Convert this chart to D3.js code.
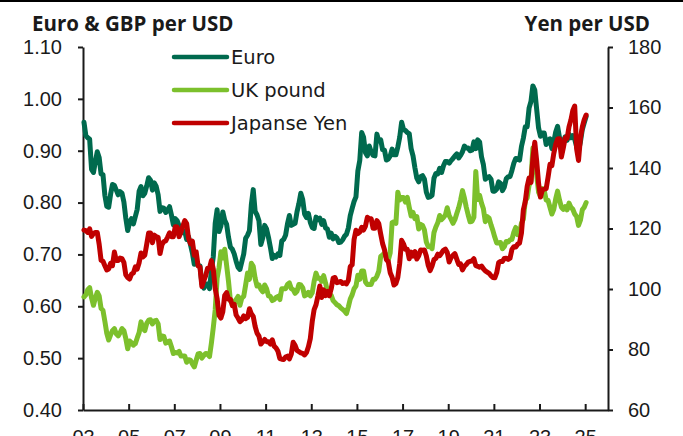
<!DOCTYPE html>
<html>
<head>
<meta charset="utf-8">
<script src="https://d3js.org/d3.v7.min.js"></script>
<style>
  body { margin: 0; background: #fff; }
  svg { display: block; font-family: "DejaVu Sans", sans-serif; }
  .tick text { font-size: 20px; fill: #1a1a1a; }
  .domain, .tick line { stroke: #1a1a1a; stroke-width: 2px; }
  .title { font-family: "Open Sans", sans-serif; font-weight: bold; font-size: 20.5px; fill: #1a1a1a; }
  .legend text { font-size: 19.5px; fill: #1a1a1a; }
</style>
</head>
<body>
<script>
// monthly readings, first value = Jan 2003, last = Jan 2025
var startYear = 2003;

var euro = [
  0.955, 0.929, 0.925, 0.922, 0.864, 0.858, 0.879, 0.898, 0.887, 0.855, 0.854, 0.814,
  0.793, 0.791, 0.816, 0.835, 0.833, 0.824, 0.815, 0.821, 0.818, 0.801, 0.770, 0.746,
  0.762, 0.769, 0.759, 0.773, 0.787, 0.822, 0.831, 0.813, 0.818, 0.832, 0.848, 0.843,
  0.824, 0.838, 0.831, 0.815, 0.783, 0.790, 0.789, 0.781, 0.786, 0.792, 0.776, 0.757,
  0.769, 0.765, 0.755, 0.743, 0.742, 0.745, 0.729, 0.734, 0.719, 0.703, 0.681, 0.686,
  0.679, 0.678, 0.644, 0.635, 0.643, 0.643, 0.634, 0.668, 0.696, 0.760, 0.786, 0.744,
  0.755, 0.782, 0.766, 0.758, 0.733, 0.714, 0.710, 0.701, 0.687, 0.675, 0.671, 0.686,
  0.701, 0.731, 0.737, 0.746, 0.796, 0.825, 0.783, 0.776, 0.765, 0.719, 0.732, 0.756,
  0.749, 0.733, 0.714, 0.692, 0.698, 0.695, 0.701, 0.698, 0.726, 0.729, 0.737, 0.759,
  0.775, 0.756, 0.758, 0.760, 0.782, 0.798, 0.818, 0.806, 0.778, 0.771, 0.779, 0.762,
  0.752, 0.750, 0.772, 0.767, 0.770, 0.758, 0.765, 0.751, 0.749, 0.733, 0.741, 0.730,
  0.735, 0.732, 0.723, 0.724, 0.728, 0.735, 0.739, 0.751, 0.775, 0.789, 0.802, 0.811,
  0.861, 0.881, 0.935, 0.926, 0.896, 0.890, 0.909, 0.898, 0.891, 0.890, 0.932, 0.919,
  0.921, 0.902, 0.901, 0.882, 0.884, 0.890, 0.903, 0.892, 0.892, 0.907, 0.926, 0.955,
  0.941, 0.939, 0.935, 0.933, 0.904, 0.890, 0.867, 0.847, 0.840, 0.850, 0.852, 0.845,
  0.820, 0.810, 0.811, 0.814, 0.847, 0.856, 0.855, 0.866, 0.858, 0.871, 0.879, 0.879,
  0.876, 0.881, 0.885, 0.890, 0.894, 0.886, 0.891, 0.898, 0.909, 0.905, 0.905, 0.900,
  0.901, 0.917, 0.904, 0.921, 0.917, 0.888, 0.873, 0.845, 0.848, 0.850, 0.845, 0.822,
  0.822, 0.826, 0.840, 0.837, 0.823, 0.830, 0.846, 0.850, 0.850, 0.862, 0.876, 0.885,
  0.884, 0.882, 0.908, 0.924, 0.946, 0.946, 0.982, 0.995, 1.025, 1.017, 0.980, 0.944,
  0.928, 0.934, 0.934, 0.912, 0.920, 0.923, 0.904, 0.917, 0.936, 0.947, 0.925, 0.917,
  0.917, 0.927, 0.920, 0.932, 0.925, 0.929, 0.922, 0.908, 0.900, 0.917, 0.941, 0.954,
  0.966
];

var pound = [
  0.618, 0.622, 0.632, 0.636, 0.616, 0.602, 0.616, 0.627, 0.620, 0.596, 0.592, 0.571,
  0.548, 0.535, 0.545, 0.553, 0.557, 0.547, 0.543, 0.549, 0.557, 0.553, 0.538, 0.518,
  0.533, 0.530, 0.525, 0.528, 0.539, 0.549, 0.570, 0.557, 0.553, 0.567, 0.573, 0.574,
  0.566, 0.572, 0.573, 0.566, 0.536, 0.543, 0.542, 0.529, 0.531, 0.533, 0.522, 0.509,
  0.511, 0.510, 0.513, 0.504, 0.504, 0.504, 0.492, 0.497, 0.496, 0.489, 0.483, 0.496,
  0.508, 0.509, 0.500, 0.505, 0.509, 0.508, 0.503, 0.529, 0.559, 0.593, 0.654, 0.674,
  0.705, 0.693, 0.710, 0.679, 0.648, 0.610, 0.610, 0.605, 0.613, 0.619, 0.602, 0.616,
  0.619, 0.641, 0.664, 0.652, 0.683, 0.677, 0.654, 0.639, 0.641, 0.633, 0.628, 0.641,
  0.634, 0.620, 0.619, 0.611, 0.613, 0.617, 0.619, 0.613, 0.634, 0.634, 0.634, 0.642,
  0.645, 0.634, 0.632, 0.625, 0.629, 0.642, 0.641, 0.636, 0.620, 0.622, 0.627, 0.620,
  0.626, 0.648, 0.664, 0.654, 0.654, 0.648, 0.659, 0.645, 0.630, 0.622, 0.621, 0.611,
  0.607, 0.603, 0.601, 0.597, 0.594, 0.591, 0.586, 0.599, 0.614, 0.622, 0.634, 0.639,
  0.660, 0.652, 0.668, 0.668, 0.647, 0.642, 0.642, 0.642, 0.652, 0.652, 0.658, 0.668,
  0.696, 0.699, 0.703, 0.699, 0.689, 0.703, 0.761, 0.763, 0.760, 0.820, 0.805, 0.810,
  0.810, 0.801, 0.810, 0.791, 0.774, 0.781, 0.769, 0.773, 0.749, 0.758, 0.756, 0.747,
  0.724, 0.715, 0.716, 0.711, 0.742, 0.753, 0.761, 0.775, 0.767, 0.771, 0.776, 0.790,
  0.775, 0.768, 0.760, 0.767, 0.779, 0.790, 0.805, 0.823, 0.809, 0.791, 0.776, 0.763,
  0.764, 0.772, 0.860, 0.806, 0.814, 0.799, 0.788, 0.763, 0.773, 0.770, 0.757, 0.746,
  0.733, 0.722, 0.722, 0.723, 0.711, 0.715, 0.725, 0.724, 0.728, 0.729, 0.743, 0.752,
  0.738, 0.740, 0.760, 0.768, 0.803, 0.809, 0.833, 0.842, 0.905, 0.886, 0.853, 0.820,
  0.812, 0.827, 0.823, 0.805, 0.804, 0.791, 0.778, 0.787, 0.807, 0.822, 0.805, 0.791,
  0.787, 0.792, 0.786, 0.799, 0.791, 0.787, 0.778, 0.773, 0.756, 0.766, 0.786, 0.791,
  0.800
];

var yen = [
  119.5, 119.3, 118.7, 119.9, 117.4, 118.3, 118.7, 118.7, 114.8, 109.5, 109.2, 107.7,
  106.3, 106.6, 108.5, 107.7, 112.2, 109.4, 109.4, 110.2, 110.0, 108.8, 104.7, 103.8,
  103.3, 104.9, 105.3, 107.3, 106.6, 108.7, 111.9, 110.6, 111.2, 114.8, 118.5, 118.5,
  115.3, 117.8, 117.3, 117.1, 111.7, 114.6, 115.7, 115.9, 117.2, 118.6, 117.3, 117.3,
  120.6, 120.5, 117.3, 118.8, 120.8, 122.6, 121.6, 116.7, 115.0, 115.8, 111.2, 112.3,
  107.6, 107.2, 100.8, 102.7, 104.4, 106.9, 106.9, 109.4, 106.6, 100.1, 96.9, 91.3,
  90.4, 92.5, 97.9, 98.8, 96.6, 96.6, 94.5, 94.9, 91.4, 90.4, 89.2, 89.8,
  91.1, 90.2, 90.6, 93.5, 91.8, 90.9, 87.6, 85.4, 84.4, 81.8, 82.5, 83.3,
  82.6, 82.6, 81.8, 83.2, 81.1, 80.5, 79.4, 77.0, 76.8, 76.7, 77.5, 77.8,
  76.9, 78.5, 82.4, 81.4, 79.7, 79.3, 78.9, 78.7, 78.2, 79.0, 80.9, 83.6,
  89.2, 93.2, 94.8, 97.7, 101.0, 97.2, 99.7, 97.8, 99.2, 97.8, 100.1, 103.6,
  103.8, 102.1, 102.3, 102.5, 101.8, 102.1, 101.7, 102.9, 107.4, 108.0, 116.4, 119.4,
  118.3, 118.8, 120.4, 119.5, 120.8, 123.7, 123.3, 123.2, 120.1, 120.1, 122.6, 121.6,
  118.2, 115.0, 113.0, 109.7, 109.0, 105.4, 103.9, 101.3, 101.8, 103.8, 108.5, 116.1,
  114.9, 113.1, 113.1, 110.0, 112.2, 110.9, 112.4, 109.9, 111.0, 112.9, 112.8, 112.9,
  110.9, 107.8, 106.1, 107.6, 109.7, 110.1, 111.5, 111.0, 111.9, 112.8, 113.2, 112.1,
  108.9, 110.4, 111.1, 111.7, 109.9, 108.1, 108.3, 106.3, 107.5, 108.1, 108.9, 109.1,
  109.3, 110.0, 107.7, 107.5, 107.2, 107.6, 106.7, 106.0, 105.6, 105.2, 104.4, 103.8,
  103.7, 105.4, 108.7, 109.1, 109.1, 110.1, 110.2, 109.8, 110.2, 113.1, 114.0, 113.9,
  114.8, 115.2, 118.5, 126.2, 128.8, 133.9, 136.7, 135.2, 143.1, 148.5, 142.4, 134.9,
  130.4, 132.8, 133.0, 133.2, 137.0, 141.2, 140.8, 144.8, 147.8, 149.6, 149.7, 143.6,
  146.6, 150.0, 149.8, 153.6, 155.9, 159.0, 160.5, 146.3, 142.5, 149.8, 153.6, 156.0,
  157.5
];

var xTicks = [2003, 2005, 2007, 2009, 2011, 2013, 2015, 2017, 2019, 2021, 2023, 2025];
var leftTicks = [0.4, 0.5, 0.6, 0.7, 0.8, 0.9, 1.0, 1.1];
var rightTicks = [60, 80, 100, 120, 140, 160, 180];

var seriesNames = ["Euro", "UK pound", "Japanse Yen"];
var seriesColors = ["#006a4e", "#7cc02c", "#c00000"];

var W = 683, H = 436;
var svg = d3.select("body").append("svg").attr("width", W).attr("height", H);

// rule across the top
svg.append("line").attr("x1", 0).attr("x2", W).attr("y1", 1).attr("y2", 1)
   .attr("stroke", "#000").attr("stroke-width", 2);

var x = d3.scaleLinear().domain([2003, 2026]).range([83, 608]);
var yL = d3.scaleLinear().domain([0.4, 1.1]).range([410, 47]);
var yR = d3.scaleLinear().domain([60, 180]).range([410, 47]);

function dateOf(i) { return startYear + (i + 0.5) / 12; }

// axes
svg.append("g").attr("transform", "translate(0,410)")
   .call(d3.axisBottom(x).tickValues(xTicks).tickSizeInner(-6).tickSizeOuter(0).tickPadding(20)
         .tickFormat(function(d){ return String(d).slice(2); }));
svg.append("g").attr("transform", "translate(83,0)")
   .call(d3.axisLeft(yL).tickValues(leftTicks).tickSizeInner(5).tickSizeOuter(0).tickPadding(16)
         .tickFormat(d3.format(".2f")));
svg.append("g").attr("transform", "translate(608,0)")
   .call(d3.axisRight(yR).tickValues(rightTicks).tickSizeInner(5).tickSizeOuter(0).tickPadding(15));

// series
var lineL = d3.line().x(function(d, i){ return x(dateOf(i)); }).y(function(d){ return yL(d); });
var lineR = d3.line().x(function(d, i){ return x(dateOf(i)); }).y(function(d){ return yR(d); });

[[euro, lineL], [pound, lineL], [yen, lineR]].forEach(function(s, k){
  svg.append("path").datum(s[0]).attr("d", s[1])
     .attr("fill", "none").attr("stroke", seriesColors[k]).attr("stroke-width", 5)
     .attr("stroke-linejoin", "round").attr("stroke-linecap", "round");
});

// titles
svg.append("text").attr("class", "title").attr("x", 32).attr("y", 31).text("Euro & GBP per USD");
svg.append("text").attr("class", "title").attr("x", 650).attr("y", 31).attr("text-anchor", "end").text("Yen per USD");

// legend
var legend = svg.append("g").attr("class", "legend");
seriesNames.forEach(function(name, k){
  var ly = 57 + k * 33;
  legend.append("line").attr("x1", 174).attr("x2", 227).attr("y1", ly).attr("y2", ly)
        .attr("stroke", seriesColors[k]).attr("stroke-width", 4.5).attr("stroke-linecap", "round");
  legend.append("text").attr("x", 231).attr("y", ly).attr("dy", "0.36em").text(name);
});
</script>
</body>
</html>
